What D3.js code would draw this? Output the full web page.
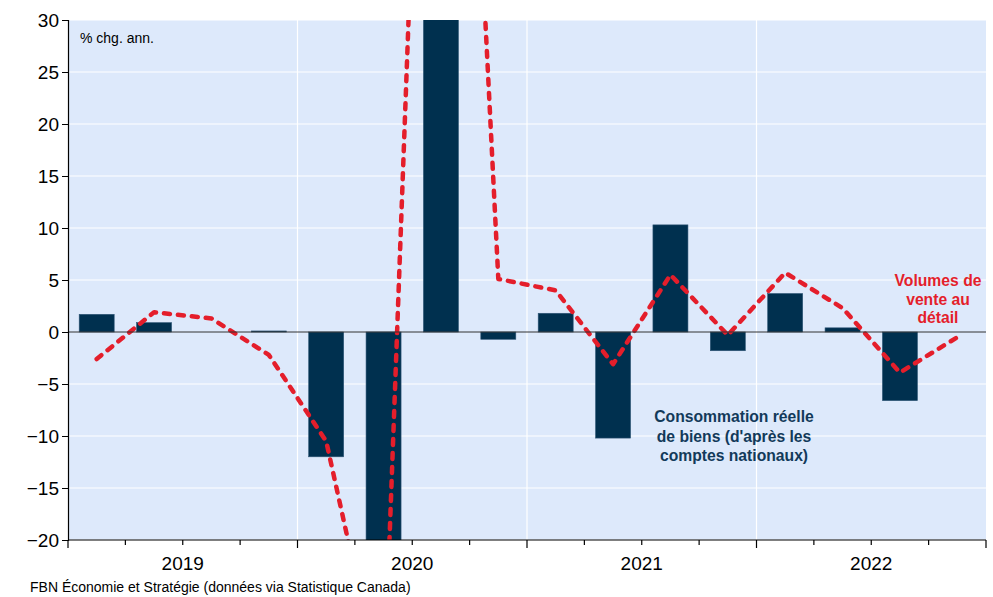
<!DOCTYPE html>
<html>
<head>
<meta charset="utf-8">
<script src="https://cdn.jsdelivr.net/npm/d3@7"></script>
<style>
  body { margin: 0; background: #fff; }
  svg { font-family: "Liberation Sans", Arial, sans-serif; }
</style>
</head>
<body>
<svg class="chart" width="993" height="597"></svg>
<script>
// quarters 2019T1 .. 2022T4
var quarters = ["2019T1","2019T2","2019T3","2019T4","2020T1","2020T2","2020T3","2020T4",
                "2021T1","2021T2","2021T3","2021T4","2022T1","2022T2","2022T3","2022T4"];
var years = ["2019", "2020", "2021", "2022"];
// consommation reelle de biens (barres)
var goods = [1.7, 0.9, 0.0, 0.1, -12.0, -40.0, 60.0, -0.7, 1.8, -10.2, 10.3, -1.8, 3.7, 0.4, -6.6, null];
// volumes de vente au detail (ligne)
var retail = [-2.6, 1.9, 1.3, -2.2, -10.5, -35.5, 115.0, 5.1, 4.0, -3.1, 5.5, -0.3, 5.7, 2.3, -3.9, -0.5];
var yTicks = [-20, -15, -10, -5, 0, 5, 10, 15, 20, 25, 30];

var svg = d3.select("svg.chart"),
    margin = {top: 20, right: 7, bottom: 57, left: 68},
    width = 993 - margin.left - margin.right,
    height = 597 - margin.top - margin.bottom,
    g = svg.append("g").attr("transform", "translate(" + margin.left + "," + margin.top + ")");

var x = d3.scaleBand().domain(quarters).range([0, width]).paddingInner(0.39).paddingOuter(0.195),
    xYear = d3.scaleBand().domain(years).range([0, width]),
    y = d3.scaleLinear().domain([-20, 30]).range([height, 0]);

g.append("defs").append("clipPath").attr("id", "plot")
  .append("rect").attr("width", width).attr("height", height);

g.append("rect")
  .attr("width", width)
  .attr("height", height)
  .attr("fill", "#dde9fb");

// grid
g.selectAll(".hgrid")
  .data(yTicks.filter(function(d) { return d !== 0; }))
  .enter().append("line")
  .attr("x1", 0).attr("x2", width)
  .attr("y1", function(d) { return y(d); })
  .attr("y2", function(d) { return y(d); })
  .attr("stroke", "#fff").attr("stroke-width", 1.2);

g.selectAll(".vgrid")
  .data(years.slice(1))
  .enter().append("line")
  .attr("x1", function(d) { return xYear(d); })
  .attr("x2", function(d) { return xYear(d); })
  .attr("y1", 0).attr("y2", height)
  .attr("stroke", "#fff").attr("stroke-width", 1.2);

var plot = g.append("g").attr("clip-path", "url(#plot)");

// bars
plot.selectAll(".bar")
  .data(quarters.map(function(q, i) { return {q: q, v: goods[i]}; })
        .filter(function(d) { return d.v !== null; }))
  .enter().append("rect")
  .attr("x", function(d) { return x(d.q); })
  .attr("width", x.bandwidth())
  .attr("y", function(d) { return y(Math.max(0, d.v)); })
  .attr("height", function(d) { return Math.abs(y(d.v) - y(0)); })
  .attr("fill", "#00304f")
  .attr("stroke", "#2d5575")
  .attr("stroke-width", 0.6);

// zero line
g.append("line")
  .attr("x1", 0).attr("x2", width)
  .attr("y1", y(0)).attr("y2", y(0))
  .attr("stroke", "#333").attr("stroke-width", 1);

var line = d3.line()
  .x(function(d) { return x(d.q) + x.bandwidth() / 2; })
  .y(function(d) { return y(d.v); });

plot.append("path")
  .datum(quarters.map(function(q, i) { return {q: q, v: retail[i]}; }))
  .attr("d", line)
  .attr("fill", "none")
  .attr("stroke", "#e41e2b")
  .attr("stroke-width", 4.5)
  .attr("stroke-linecap", "round")
  .attr("stroke-linejoin", "round")
  .attr("stroke-dasharray", "6,8");

// y axis
var yAxis = g.append("g")
  .call(d3.axisLeft(y).tickValues(yTicks).tickSize(6).tickPadding(3));
yAxis.select(".domain").attr("stroke", "#000").attr("stroke-width", 1.2);
yAxis.selectAll("text").style("font-size", "19px").attr("fill", "#000");
yAxis.selectAll("line").attr("stroke", "#000");

// x axis: ticks on quarter boundaries, longer on years
var xAxis = g.append("g").attr("transform", "translate(0," + height + ")");
xAxis.append("line")
  .attr("x1", 0).attr("x2", width)
  .attr("stroke", "#000").attr("stroke-width", 1.2);
xAxis.selectAll(".qtick")
  .data(d3.range(quarters.length + 1))
  .enter().append("line")
  .attr("x1", function(i) { return i * x.step(); })
  .attr("x2", function(i) { return i * x.step(); })
  .attr("y1", 0)
  .attr("y2", function(i) { return i % 4 === 0 ? 8 : 5; })
  .attr("stroke", "#000").attr("stroke-width", 1.2);
xAxis.selectAll(".ylab")
  .data(years)
  .enter().append("text")
  .attr("x", function(d) { return xYear(d) + xYear.bandwidth() / 2; })
  .attr("y", 30)
  .attr("text-anchor", "middle")
  .style("font-size", "19px")
  .text(function(d) { return d; });

g.append("text")
  .attr("x", 12).attr("y", 23)
  .style("font-size", "14px")
  .text("% chg. ann.");

// annotations
var ann1 = g.append("text")
  .attr("text-anchor", "middle")
  .attr("fill", "#e41e2b")
  .style("font-size", "15.7px").style("font-weight", "bold");
["Volumes de", "vente au", "détail"].forEach(function(t, i) {
  ann1.append("tspan").attr("x", 870).attr("y", 266 + i * 18.5).text(t);
});

var ann2 = g.append("text")
  .attr("text-anchor", "middle")
  .attr("fill", "#123a5a")
  .style("font-size", "15.7px").style("font-weight", "bold");
["Consommation réelle", "de biens (d'après les", "comptes nationaux)"].forEach(function(t, i) {
  ann2.append("tspan").attr("x", 666).attr("y", 402 + i * 19.5).text(t);
});

svg.append("text")
  .attr("x", 30).attr("y", 592)
  .style("font-size", "14px")
  .text("FBN Économie et Stratégie (données via Statistique Canada)");
</script>
</body>
</html>
